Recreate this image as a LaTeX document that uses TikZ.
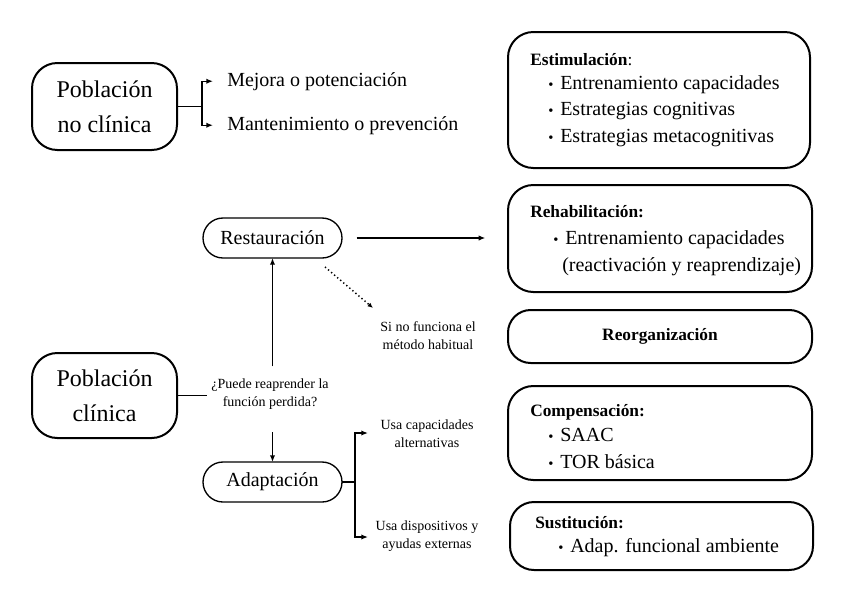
\documentclass[tikz,border=0pt]{standalone}
\usepackage{fontspec}
\setmainfont{Liberation Serif}
\usetikzlibrary{arrows.meta}
\newcommand{\bul}{\makebox[9pt][l]{\fontsize{11}{11}\selectfont\raisebox{0.3pt}{•}}}
\begin{document}
\begin{tikzpicture}[x=0.75pt,y=-0.75pt,
  bigbox/.style={draw,line width=1.5pt,rounded corners=19pt,inner sep=0pt,outer sep=0pt},
  popbox/.style={bigbox,align=center,font=\fontsize{18}{26}\selectfont,minimum width=108.75pt},
  pill/.style={draw,line width=1pt,rounded corners=15pt,inner sep=0pt,outer sep=0pt,minimum width=104.25pt,minimum height=30pt,font=\fontsize{15}{18}\selectfont},
  head/.style={anchor=west,inner sep=0pt,font=\fontsize{13}{16}\selectfont\bfseries},
  item/.style={anchor=west,inner sep=0pt,font=\fontsize{15}{20}\selectfont},
  small/.style={align=center,inner sep=0pt,font=\fontsize{10.5}{13.5}\selectfont},
  conn/.style={line width=1pt},
  arr/.style={conn,-{Latex[length=5pt,width=4pt]}}
]
\useasboundingbox (0,0) rectangle (848,600);
\fill[white] (0,0) rectangle (848,600);

% left population boxes
\node[popbox,minimum height=65.25pt] (pnc) at (104.5,106.5) {Población\\no clínica};
\node[popbox,minimum height=63.75pt] (pc) at (104.5,395.5) {Población\\clínica};

% non-clinical branches
\node[item,anchor=mid west] (mej) at (227,83) {Mejora o potenciación};
\node[item,anchor=mid west] (man) at (227,127) {Mantenimiento o prevención};
\coordinate (b1) at (202,106.5);
\draw[conn] (pnc.east) -- (b1);
\draw[arr] (b1) |- ([xshift=-10.5pt]mej.west);
\draw[arr] (b1) |- ([xshift=-10.5pt]man.west);

% right boxes
\node[bigbox,minimum width=226.5pt,minimum height=102pt] (est) at (659,100) {};
\node[head] (esth) at (530,60) {Estimulación\textmd{:}};
\node[item] (est1) at (548,85) {\bul Entrenamiento capacidades};
\node[item] (est2) at (548,111.5) {\bul Estrategias cognitivas};
\node[item] (est3) at (548,138) {\bul Estrategias metacognitivas};

\node[bigbox,minimum width=228pt,minimum height=80.25pt] (reh) at (660,238.5) {};
\node[head] (rehh) at (530,212) {Rehabilitación:};
\node[item] (reh1) at (553,240) {\bul Entrenamiento capacidades};
\node[item] (reh2) at (562,267) {(reactivación y reaprendizaje)};

\node[bigbox,rounded corners=17pt,minimum width=228pt,minimum height=39.75pt,font=\fontsize{13}{16}\selectfont\bfseries] (reo) at (660,336.5) {Reorganización};

\node[bigbox,minimum width=228pt,minimum height=70.5pt] (com) at (660,433) {};
\node[head] (comh) at (530,412) {Compensación:};
\node[item] (com1) at (548,435) {\bul SAAC};
\node[item] (com2) at (548,462) {\bul TOR básica};

\node[bigbox,rounded corners=18pt,minimum width=227.25pt,minimum height=51pt] (sus) at (661.5,536) {};
\node[head] (sush) at (535,523) {Sustitución:};
\node[item] (sus1) at (558,548) {\bul Adap. funcional ambiente};

% clinical part
\node[pill] (res) at (272.5,238) {Restauración};
\node[pill] (ada) at (272.5,482) {Adaptación};
\node[small] (q) at (270,394) {¿Puede reaprender la\\función perdida?};
\node[small] (si) at (428,336) {Si no funciona el\\método habitual};
\node[small] (u1) at (427,434) {Usa capacidades\\alternativas};
\node[small] (u2) at (427,536) {Usa dispositivos y\\ayudas externas};

\draw[conn] (pc.east) -- ([xshift=-3pt]q.west |- pc.east);
\draw[arr] ([yshift=9pt]q.north -| res.south) -- (res.south);
\draw[arr] ([yshift=-17pt]q.south -| ada.north) -- (ada.north);
\draw[arr] ([xshift=11pt]res.east) -- ([xshift=-17pt]reh.west |- res.east);
\draw[conn,dotted,line width=1.1pt,-{Latex[length=4pt,width=3.5pt]}] (325,267) -- (373,308);

\coordinate (b2) at (355,482);
\draw[conn] (ada.east) -- (b2);
\draw[arr] (b2) |- (368,433);
\draw[arr] (b2) |- (368,537);
\end{tikzpicture}
\end{document}
